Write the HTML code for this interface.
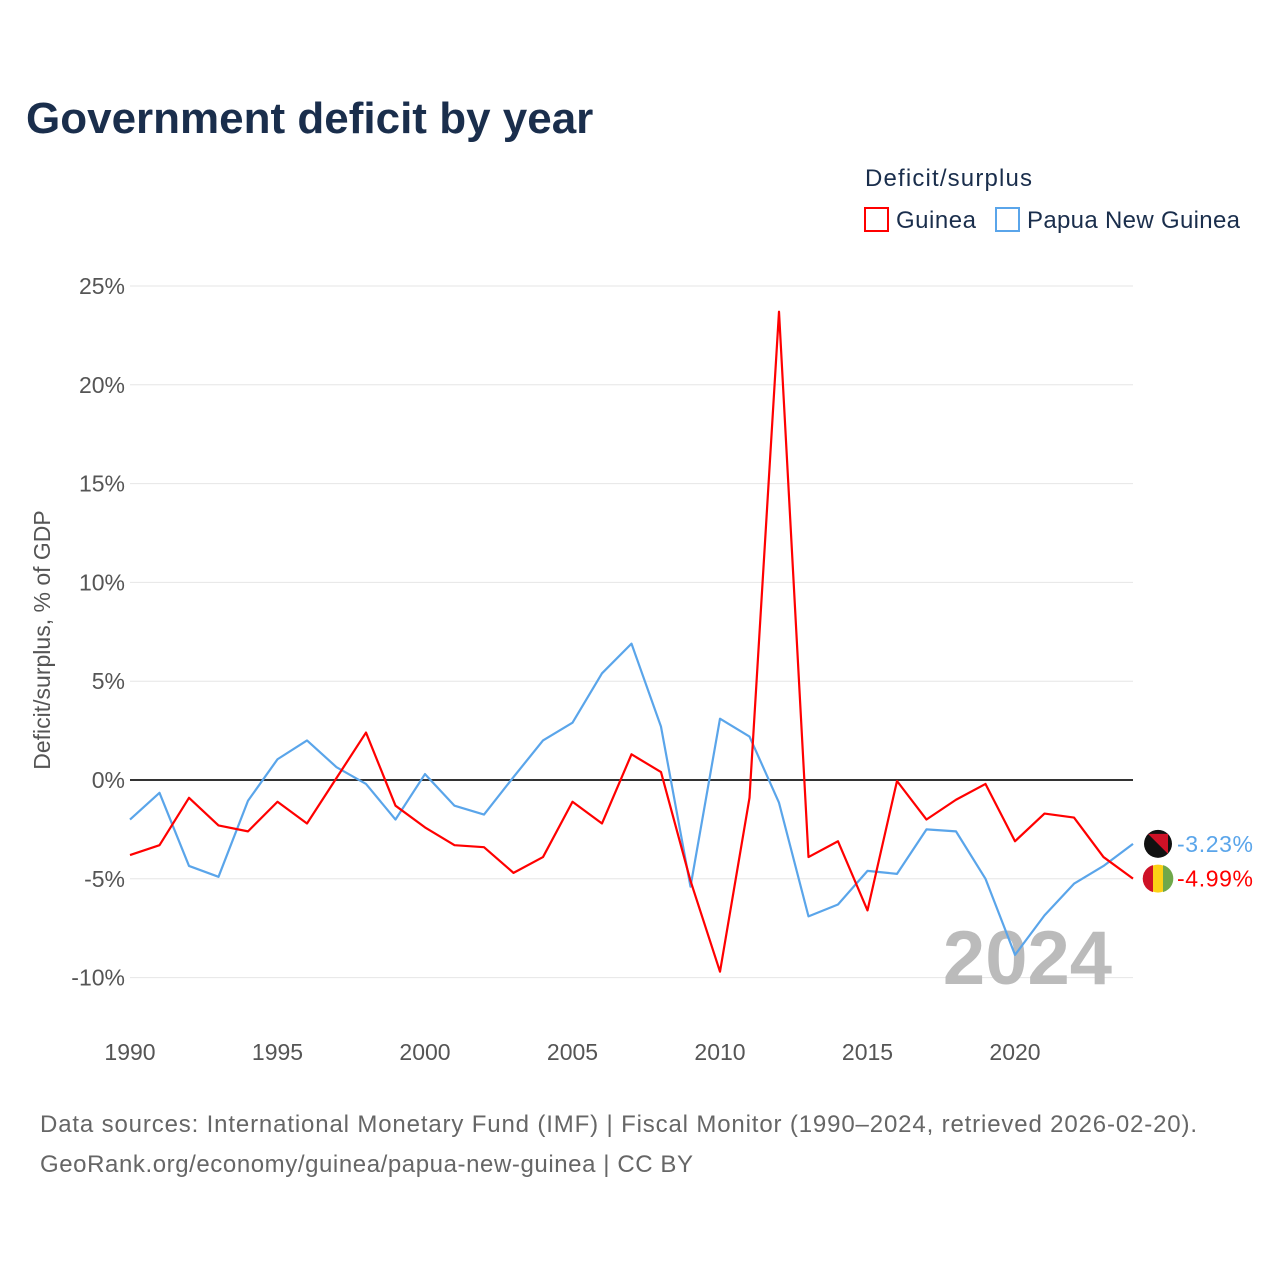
<!DOCTYPE html>
<html><head><meta charset="utf-8">
<style>
body{margin:0;background:#fff;font-family:"Liberation Sans",sans-serif;}
svg text{font-family:"Liberation Sans",sans-serif;}
</style></head>
<body>
<svg id="chart" width="1280" height="1280" viewBox="0 0 1280 1280">
<text x="26" y="133" font-size="44" font-weight="bold" fill="#1a2e4c">Government deficit by year</text>
<text x="865" y="186" font-size="24" fill="#1a2e4c" textLength="167">Deficit/surplus</text>
<g><rect x="865" y="208" width="23" height="23" fill="#fff" stroke="#f00" stroke-width="2"/><text x="896" y="228" font-size="24" fill="#1a2e4c" textLength="80">Guinea</text></g>
<g><rect x="996" y="208" width="23" height="23" fill="#fff" stroke="#5aa5ea" stroke-width="2"/><text x="1027" y="228" font-size="24" fill="#1a2e4c" textLength="213">Papua New Guinea</text></g>
<g id="grid"></g>
<g id="xt"></g>
<text transform="translate(50,640) rotate(-90)" text-anchor="middle" font-size="23" fill="#555">Deficit/surplus, % of GDP</text>
<text x="1112" y="984" text-anchor="end" font-size="76" font-weight="bold" fill="#bbb">2024</text>
<g id="series"></g>
<text x="40" y="1132" font-size="24" fill="#666" textLength="1157">Data sources: International Monetary Fund (IMF) | Fiscal Monitor (1990–2024, retrieved 2026-02-20).</text>
<text x="40" y="1172" font-size="24" fill="#666" textLength="653">GeoRank.org/economy/guinea/papua-new-guinea | CC BY</text>
</svg>
<script>
const years=[];for(let y=1990;y<=2024;y++)years.push(y);
const guinea=[-3.8,-3.3,-0.9,-2.3,-2.6,-1.1,-2.2,0.1,2.4,-1.3,-2.4,-3.3,-3.4,-4.7,-3.9,-1.1,-2.2,1.3,0.4,-5.1,-9.7,-0.9,23.7,-3.9,-3.1,-6.6,-0.05,-2.0,-1.0,-0.2,-3.1,-1.7,-1.9,-3.9,-4.99];
const png=[-2.0,-0.65,-4.35,-4.9,-1.05,1.05,2.0,0.65,-0.2,-2.0,0.3,-1.3,-1.75,0.15,2.0,2.9,5.4,6.9,2.7,-5.4,3.1,2.2,-1.15,-6.9,-6.3,-4.6,-4.75,-2.5,-2.6,-5.0,-8.85,-6.85,-5.25,-4.35,-3.23];
const yTicks=[25,20,15,10,5,0,-5,-10];
const xTicks=[1990,1995,2000,2005,2010,2015,2020];
const NS="http://www.w3.org/2000/svg";
const X=y=>130+(y-1990)*(1003/34);
const Y=v=>780-v*19.76;
function mk(t,a,p){const e=document.createElementNS(NS,t);for(const k in a)e.setAttribute(k,a[k]);p.appendChild(e);return e;}
const grid=document.getElementById('grid');
yTicks.forEach(v=>{
 const l=mk('line',{x1:130,x2:1133,y1:Y(v),y2:Y(v),stroke:v===0?'#333':'#e6e6e6','stroke-width':v===0?2:1},grid);
 
 
 const t=mk('text',{x:125,y:Y(v)+8,'text-anchor':'end','font-size':23,fill:'#555'},grid);
 t.textContent=v+'%';
 
 
});
const xt=document.getElementById('xt');
xTicks.forEach(v=>{
 const t=mk('text',{x:X(v),y:1060,'text-anchor':'middle','font-size':23,fill:'#555'},xt);
 t.textContent=v;
 
 
});
const s=document.getElementById('series');
function line(vals,color,name){
 const p=mk('polyline',{points:vals.map((v,i)=>X(years[i])+','+Y(v)).join(' '),fill:'none',stroke:color,'stroke-width':2.2,'stroke-linejoin':'round'},s);
 
 
}
line(png,'#5aa5ea','series-png');
line(guinea,'#f00','series-guinea');
const lastP=png[png.length-1],lastG=guinea[guinea.length-1];
const fp=mk('circle',{cx:1158,cy:Y(lastP),r:14,fill:'#111'},s);


mk('path',{d:`M1148 ${Y(lastP)-10} L1168 ${Y(lastP)+10} L1168 ${Y(lastP)-10}Z`,fill:'#ce1126'},s);
const fg=mk('circle',{cx:1158,cy:Y(lastG),r:14,fill:'#fcd116'},s);


mk('path',{d:`M1153 ${Y(lastG)-13.5} A14 14 0 0 0 1153 ${Y(lastG)+13.5}Z`,fill:'#ce1126'},s);
mk('path',{d:`M1163 ${Y(lastG)-13.5} A14 14 0 0 1 1163 ${Y(lastG)+13.5}Z`,fill:'#6fa84a'},s);
const lp=mk('text',{x:1177,y:Y(lastP)+8,'font-size':23,fill:'#5aa5ea',textLength:76},s);
lp.textContent=lastP.toFixed(2)+'%';


const lg=mk('text',{x:1177,y:Y(lastG)+8,'font-size':23,fill:'#f00',textLength:76},s);
lg.textContent=lastG.toFixed(2)+'%';


</script>
</body></html>
